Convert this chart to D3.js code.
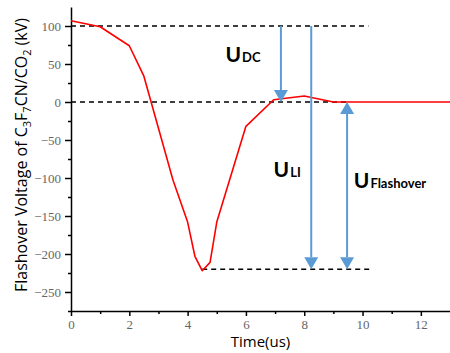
<!DOCTYPE html>
<html>
<head>
<meta charset="utf-8">
<script src="https://cdn.jsdelivr.net/npm/d3@7"></script>
<style>
  body { margin: 0; background: #fff; }
  .tick text { font-family: "Liberation Serif", serif; font-size: 13px; fill: #666; }
  .axis path, .axis line { stroke: #000; stroke-width: 1.5; }
  .title { font-family: "Open Sans", sans-serif; font-size: 15px; fill: #000; }
  .lbl { font-family: Lato, "Open Sans", sans-serif; font-weight: bold; fill: #000; }
</style>
</head>
<body>
<svg id="chart" width="450" height="353"></svg>
<script>
'use strict';
// waveform
var time = [0, 1, 2, 2.5, 3.5, 4, 4.25, 4.5, 4.77, 5, 6, 6.95, 8, 9, 13];
var volt = [107, 99, 74, 34, -103, -158, -203, -222, -211, -158, -32, 3, 8, 0, 0];

var xTicks = [0, 2, 4, 6, 8, 10, 12];
var yTicks = [-250, -200, -150, -100, -50, 0, 50, 100];

// reference levels (dashed): [value, t start, t end]
var levels = [[100, 0, 10.2], [0, 0, 9.5], [-220, 4.5, 10.3]];
// arrows: [t, from, to, double-headed]
var arrows = [[7.2, 100, 0, false], [8.24, 100, -220, false], [9.47, 0, -220, true]];
// labels: [t, value, main, sub]
var labels = [[5.3, 52, 'U', 'DC'], [6.95, -99, 'U', 'LI'], [9.7, -113, 'U', 'Flashover']];

var margin = {top: 7, right: 0, bottom: 42, left: 71},
    width  = 450 - margin.left - margin.right,
    height = 353 - margin.top - margin.bottom;

var svg = d3.select('#chart');
var g = svg.append('g').attr('transform', 'translate(' + margin.left + ',' + margin.top + ')');

var x = d3.scaleLinear().domain([0, 13]).range([0, width]);
var y = d3.scaleLinear().domain([-275, 125]).range([height, 0]);

// minor ticks first
g.append('g')
  .attr('class', 'axis')
  .attr('transform', 'translate(0,' + height + ')')
  .call(d3.axisBottom(x).tickValues(d3.range(1, 13, 2)).tickSize(3).tickFormat(''))
  .select('.domain').remove();
g.append('g')
  .attr('class', 'axis')
  .call(d3.axisLeft(y).tickValues(d3.range(-275, 125, 50)).tickSize(3).tickFormat(''))
  .select('.domain').remove();

g.append('g')
  .attr('class', 'axis')
  .attr('transform', 'translate(0,' + height + ')')
  .call(d3.axisBottom(x).tickValues(xTicks).tickSize(5).tickSizeOuter(0).tickPadding(4)
        .tickFormat(function(d) { return d; }));

g.append('g')
  .attr('class', 'axis')
  .call(d3.axisLeft(y).tickValues(yTicks).tickSize(6).tickSizeOuter(0).tickPadding(4)
        .tickFormat(function(d) { return d < 0 ? '\u2212' + (-d) : d; }));

// dashed levels
g.selectAll('.level')
  .data(levels).enter()
  .append('line')
    .attr('x1', function(d) { return x(d[1]); })
    .attr('x2', function(d) { return x(d[2]); })
    .attr('y1', function(d) { return y(d[0]); })
    .attr('y2', function(d) { return y(d[0]); })
    .attr('stroke', '#000')
    .attr('stroke-width', 1.5)
    .attr('stroke-dasharray', '5,4');

// waveform
var line = d3.line()
  .x(function(d, i) { return x(time[i]); })
  .y(function(d) { return y(d); });

g.append('path')
  .datum(volt)
  .attr('d', line)
  .attr('fill', 'none')
  .attr('stroke', '#ff0000')
  .attr('stroke-width', 1.6)
  .attr('stroke-linejoin', 'round');

// arrows
var blue = '#5b9bd5', hw = 7, hh = 12;
function head(px, py, dir) { // dir: 1 = pointing down
  return 'M' + px + ',' + py + 'L' + (px - hw) + ',' + (py - dir * hh) + 'L' + (px + hw) + ',' + (py - dir * hh) + 'Z';
}
arrows.forEach(function(a) {
  var px = x(a[0]), y1 = y(a[1]), y2 = y(a[2]);
  var dir = y2 > y1 ? 1 : -1;
  g.append('line')
    .attr('x1', px).attr('x2', px)
    .attr('y1', a[3] ? y1 + dir * hh : y1)
    .attr('y2', y2 - dir * hh)
    .attr('stroke', blue).attr('stroke-width', 2);
  g.append('path').attr('d', head(px, y2, dir)).attr('fill', blue);
  if (a[3]) g.append('path').attr('d', head(px, y1, -dir)).attr('fill', blue);
});

// labels
labels.forEach(function(l) {
  var t = g.append('text')
    .attr('class', 'lbl')
    .attr('x', x(l[0]))
    .attr('y', y(l[1]));
  t.append('tspan').style('font-size', '21px').text(l[2]);
  t.append('tspan').style('font-size', '13px').attr('dx', 1).text(l[3]);
});

// axis titles
svg.append('text')
  .attr('class', 'title')
  .attr('x', margin.left + x(6.5))
  .attr('y', 347)
  .attr('text-anchor', 'middle')
  .text('Time(us)');

var yt = svg.append('text')
  .attr('class', 'title')
  .attr('text-anchor', 'middle')
  .attr('transform', 'translate(27,155) rotate(-90)')
  .style('font-size', '16px');
yt.append('tspan').text('Flashover Voltage of C');
yt.append('tspan').attr('dy', 4).style('font-size', '11px').text('3');
yt.append('tspan').attr('dy', -4).text('F');
yt.append('tspan').attr('dy', 4).style('font-size', '11px').text('7');
yt.append('tspan').attr('dy', -4).text('CN/CO');
yt.append('tspan').attr('dy', 4).style('font-size', '11px').text('2');
yt.append('tspan').attr('dy', -4).text(' (kV)');
</script>
</body>
</html>
